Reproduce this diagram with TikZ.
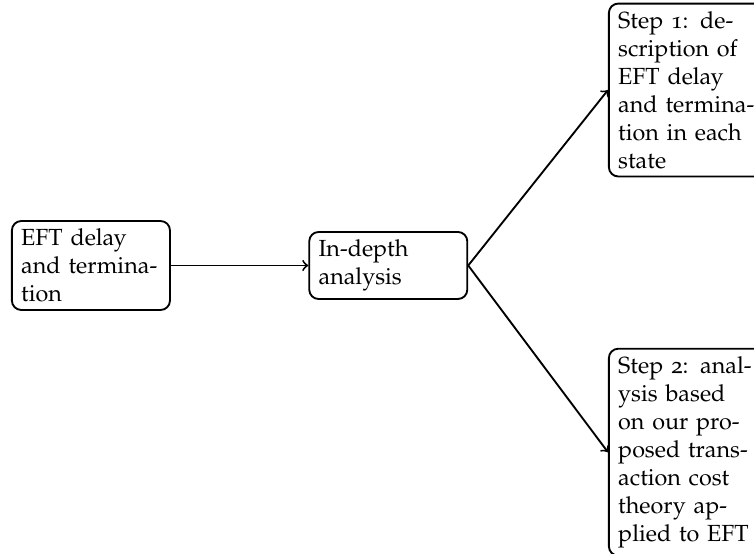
\documentclass[tikz,border=0pt]{standalone}
\usepackage[T1]{fontenc}
\usepackage[osf]{mathpazo}
\usepackage{tikz}
\usetikzlibrary{shapes,arrows,positioning,calc}

\begin{document}
\begin{tikzpicture}[
    every node/.style={font=\normalsize},
    box/.style={rectangle, draw, thick, text width=2.1cm, inner xsep=4pt, rounded corners},
    arrow/.style={->, thick}
]
\useasboundingbox (0,0) rectangle (11.36,-8.34);

% Input and analysis
\node[box] (eft) at (1.37,-4.0) {EFT delay and termination};
\node[box] (indepth) at (5.85,-4.0) {In-depth analysis};

% Two steps
\node[box, anchor=north west] (step1) at (9.16,-0.04) {Step 1: description of EFT delay and termination in each state};
\node[box, anchor=north west] (step2) at (9.16,-5.24) {Step 2: analysis based on our proposed transaction cost theory applied to EFT};

% Arrows
\draw[arrow] (eft) -- (indepth);
\draw[arrow] (indepth.east) -- (step1.west);
\draw[arrow] (indepth.east) -- (step2.west);

\end{tikzpicture}
\end{document}
